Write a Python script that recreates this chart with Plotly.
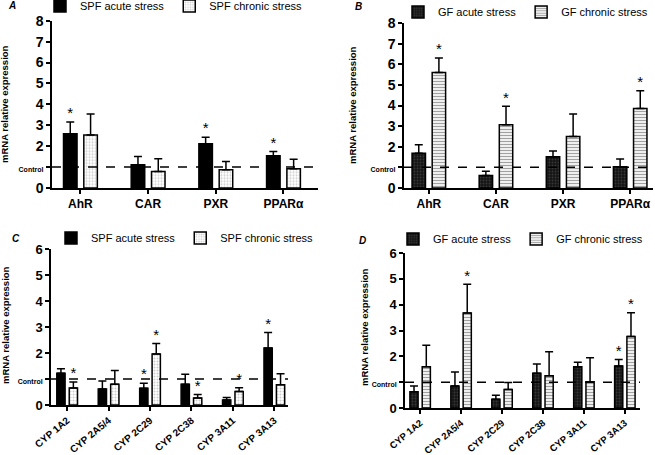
import plotly.graph_objects as go

# ---------------- data ----------------
receptors = ["AhR", "CAR", "PXR", "PPARα"]
cyps = ["CYP 1A2", "CYP 2A5/4", "CYP 2C29", "CYP 2C38", "CYP 3A11", "CYP 3A13"]

# Panel A (SPF, receptors)
a_acute = [2.59, 1.11, 2.11, 1.54]
a_acute_err = [0.57, 0.40, 0.32, 0.21]
a_acute_sig = [1, 0, 1, 1]
a_chronic = [2.54, 0.79, 0.87, 0.92]
a_chronic_err = [1.00, 0.61, 0.40, 0.45]
a_chronic_sig = [0, 0, 0, 0]

# Panel B (GF, receptors)
b_acute = [1.68, 0.61, 1.52, 1.03]
b_acute_err = [0.42, 0.20, 0.27, 0.38]
b_acute_sig = [0, 0, 0, 0]
b_chronic = [5.60, 3.07, 2.50, 3.86]
b_chronic_err = [0.70, 0.89, 1.09, 0.86]
b_chronic_sig = [1, 1, 0, 1]

# Panel C (SPF, CYPs)
c_acute = [1.22, 0.62, 0.64, 0.80, 0.19, 2.19]
c_acute_err = [0.17, 0.30, 0.20, 0.38, 0.10, 0.60]
c_acute_sig = [0, 0, 1, 0, 0, 1]
c_chronic = [0.65, 0.80, 1.96, 0.27, 0.52, 0.78]
c_chronic_err = [0.23, 0.53, 0.41, 0.13, 0.14, 0.42]
c_chronic_sig = [1, 0, 1, 1, 1, 0]

# Panel D (GF, CYPs)
d_acute = [0.63, 0.85, 0.34, 1.35, 1.60, 1.63]
d_acute_err = [0.22, 0.54, 0.15, 0.35, 0.17, 0.25]
d_acute_sig = [0, 0, 0, 0, 0, 1]
d_chronic = [1.60, 3.68, 0.72, 1.25, 1.02, 2.77]
d_chronic_err = [0.83, 1.11, 0.27, 0.93, 0.93, 0.92]
d_chronic_sig = [0, 1, 0, 0, 0, 1]

control_level = 1
y_ticks_8 = [0, 1, 2, 3, 4, 5, 6, 7, 8]
y_ticks_6 = [0, 1, 2, 3, 4, 5, 6]

# ---------------- styles ----------------
W, H = 655, 455
FONT = "Liberation Sans, Arial, sans-serif"
BAR_W = 0.2
OFF_ACUTE = -0.25
OFF_CHRON = 0.05

styles = {
    "spf_acute": dict(color="black", line=dict(color="black", width=1.5)),
    "spf_chronic": dict(color="white", line=dict(color="black", width=1.5),
                        pattern=dict(shape=".", fgcolor="#9a9a9a", bgcolor="white", size=3, solidity=0.35)),
    "gf_acute": dict(color="#151515", line=dict(color="black", width=1.5),
                     pattern=dict(shape=".", fgcolor="#5a5a5a", bgcolor="#151515", size=3, solidity=0.3)),
    "gf_chronic": dict(color="white", line=dict(color="black", width=1.5),
                       pattern=dict(shape="-", fgcolor="#444444", bgcolor="white", size=3, solidity=0.45)),
}


def px_x(p):
    return p / W


def px_y(p):
    return 1 - p / H


fig = go.Figure()

panels = [
    ("", receptors, a_acute, a_acute_err, a_acute_sig, a_chronic, a_chronic_err, a_chronic_sig,
     ("SPF acute stress", "SPF chronic stress"), ("spf_acute", "spf_chronic"), "legend"),
    ("2", receptors, b_acute, b_acute_err, b_acute_sig, b_chronic, b_chronic_err, b_chronic_sig,
     ("GF acute stress", "GF chronic stress"), ("gf_acute", "gf_chronic"), "legend2"),
    ("3", cyps, c_acute, c_acute_err, c_acute_sig, c_chronic, c_chronic_err, c_chronic_sig,
     ("SPF acute stress", "SPF chronic stress"), ("spf_acute", "spf_chronic"), "legend3"),
    ("4", cyps, d_acute, d_acute_err, d_acute_sig, d_chronic, d_chronic_err, d_chronic_sig,
     ("GF acute stress", "GF chronic stress"), ("gf_acute", "gf_chronic"), "legend4"),
]

for (suf, cats, ac, ace, acs, ch, che, chs, names, skeys, leg) in panels:
    xs = list(range(len(cats)))
    xa, ya = "x" + suf, "y" + suf
    for vals, errs, sigs, name, skey, off in [
        (ac, ace, acs, names[0], skeys[0], OFF_ACUTE),
        (ch, che, chs, names[1], skeys[1], OFF_CHRON),
    ]:
        fig.add_trace(go.Bar(
            x=xs, y=vals, name=name, xaxis=xa, yaxis=ya, legend=leg,
            offset=off, width=BAR_W, marker=styles[skey],
            error_y=dict(type="data", array=errs, arrayminus=[0] * len(errs),
                         symmetric=False, color="black", thickness=1.5, width=4),
        ))
        sx = [x + off + BAR_W / 2 for x, s in zip(xs, sigs) if s]
        sy = [v + e for v, e, s in zip(vals, errs, sigs) if s]
        fig.add_trace(go.Scatter(
            x=sx, y=sy, mode="text", text=["*"] * len(sx), textposition="top center",
            textfont=dict(family=FONT, size=15, color="black"),
            xaxis=xa, yaxis=ya, showlegend=False, hoverinfo="skip", cliponaxis=False,
        ))


def ytext(vals, fs):
    return ['<span style="font-size:%dpx">Control</span>' % fs if v == control_level else str(v)
            for v in vals]


axis_common = dict(showline=True, linecolor="black", linewidth=1.5, ticks="outside",
                   ticklen=4, tickwidth=1.5, tickcolor="black", showgrid=False, zeroline=False,
                   automargin=False)

layout = dict(
    width=W, height=H, margin=dict(l=0, r=0, t=0, b=0, autoexpand=False),
    paper_bgcolor="white", plot_bgcolor="white", barmode="overlay",
    font=dict(family=FONT, color="black"),
    xaxis=dict(domain=[px_x(52), px_x(318)], anchor="y", range=[-0.42, 3.51],
               tickvals=list(range(4)), ticktext=receptors,
               tickfont=dict(size=12, family=FONT, weight="bold"), **axis_common),
    yaxis=dict(domain=[px_y(188), px_y(20.7)], anchor="x", range=[0, 8],
               tickvals=y_ticks_8, ticktext=ytext(y_ticks_8, 7),
               tickfont=dict(size=14, family=FONT, weight="bold"), **axis_common),
    xaxis2=dict(domain=[px_x(404), px_x(653)], anchor="y2", range=[-0.37, 3.34],
                tickvals=list(range(4)), ticktext=receptors,
                tickfont=dict(size=12, family=FONT, weight="bold"), **axis_common),
    yaxis2=dict(domain=[px_y(188), px_y(23)], anchor="x2", range=[0, 8],
                tickvals=y_ticks_8, ticktext=ytext(y_ticks_8, 7),
                tickfont=dict(size=14, family=FONT, weight="bold"), **axis_common),
    xaxis3=dict(domain=[px_x(51), px_x(288)], anchor="y3", range=[-0.39, 5.33],
                tickvals=list(range(6)), ticktext=cyps, tickangle=-40,
                tickfont=dict(size=10, family=FONT, weight="bold"), **axis_common),
    yaxis3=dict(domain=[px_y(405), px_y(249)], anchor="x3", range=[0, 6],
                tickvals=y_ticks_6, ticktext=ytext(y_ticks_6, 7),
                tickfont=dict(size=13, family=FONT, weight="bold"), **axis_common),
    xaxis4=dict(domain=[px_x(405), px_x(640)], anchor="y4", range=[-0.37, 5.37],
                tickvals=list(range(6)), ticktext=cyps, tickangle=-40,
                tickfont=dict(size=9.5, family=FONT, weight="bold"), **axis_common),
    yaxis4=dict(domain=[px_y(408), px_y(253)], anchor="x4", range=[0, 6],
                tickvals=y_ticks_6, ticktext=ytext(y_ticks_6, 7),
                tickfont=dict(size=13, family=FONT, weight="bold"), **axis_common),
)

leg_common = dict(orientation="h", xanchor="left", yanchor="middle",
                  font=dict(family=FONT, size=11, color="black"),
                  bgcolor="rgba(0,0,0,0)", itemclick=False, itemdoubleclick=False)
layout["legend"] = dict(x=px_x(40), y=px_y(6), **leg_common)
layout["legend2"] = dict(x=px_x(398), y=px_y(12), **leg_common)
layout["legend3"] = dict(x=px_x(51), y=px_y(238), **leg_common)
layout["legend4"] = dict(x=px_x(393), y=px_y(239), **leg_common)

fig.update_layout(**layout)

# control dashed lines
for suf in ["", "2", "3", "4"]:
    fig.add_shape(type="line", xref=("x" + suf) + " domain", yref="y" + suf,
                  x0=0, x1=1, y0=control_level, y1=control_level,
                  line=dict(color="black", width=1.5, dash="dash"), layer="above")

# panel letters and y titles
for letter, lx, ly in [("A", 12, 6), ("B", 358, 7), ("C", 16, 238), ("D", 362, 240)]:
    fig.add_annotation(text="<b><i>%s</i></b>" % letter, x=px_x(lx), y=px_y(ly),
                       xref="paper", yref="paper", showarrow=False,
                       xanchor="center", yanchor="middle",
                       font=dict(family=FONT, size=10, color="black"))

for tx, ty in [(5, 104), (352, 105), (5, 325), (364, 327)]:
    fig.add_annotation(text="<b>mRNA relative expression</b>", x=px_x(tx), y=px_y(ty),
                       xref="paper", yref="paper", showarrow=False, textangle=-90,
                       xanchor="center", yanchor="middle",
                       font=dict(family=FONT, size=9.5, color="black"))

fig.write_html("out.html", config={"displayModeBar": False},
               post_script="document.body.style.margin='0';document.body.style.overflow='hidden';")
